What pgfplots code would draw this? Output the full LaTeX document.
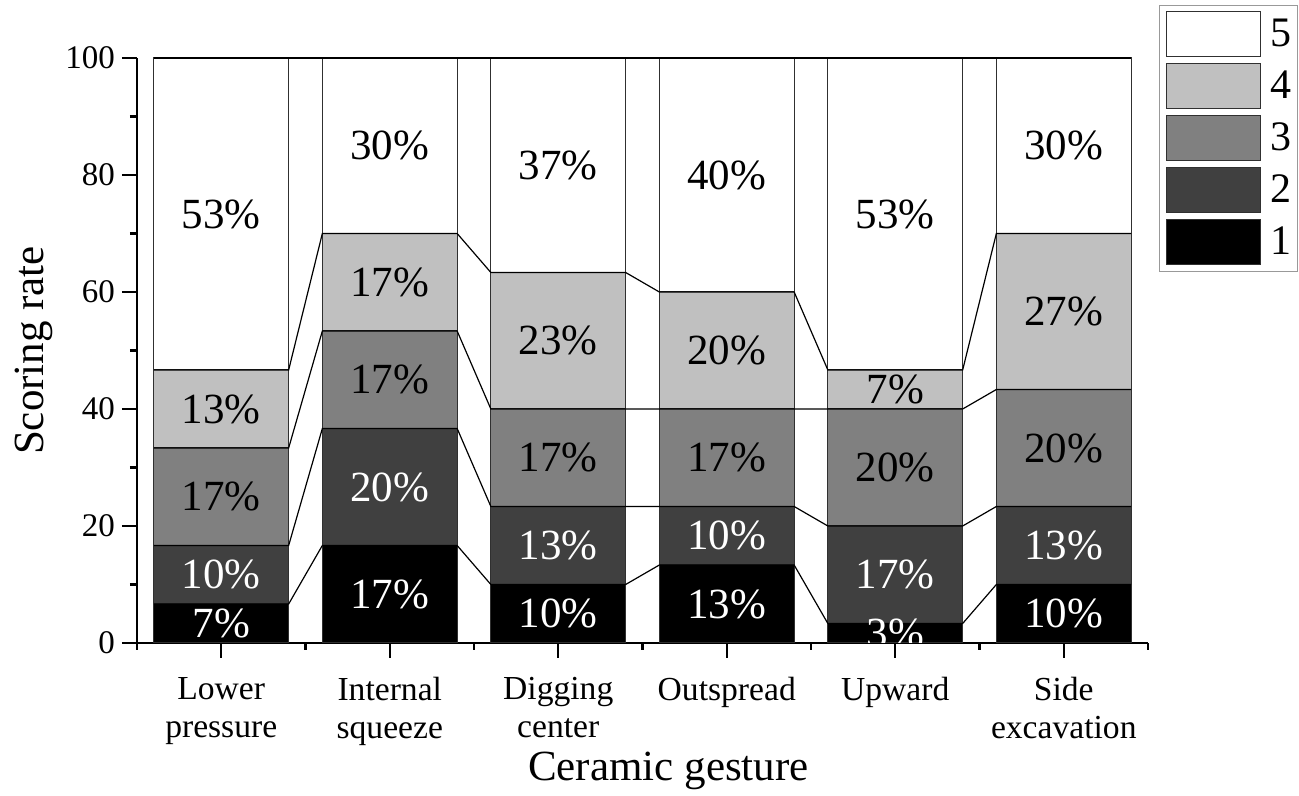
\documentclass[border=0pt]{standalone}
\usepackage{fontspec}
\setmainfont{Liberation Serif}
\usepackage{pgfplots}
\usepackage{pgfplotstable}
\pgfplotsset{compat=1.18}
\definecolor{c1}{HTML}{000000}
\definecolor{c2}{HTML}{404040}
\definecolor{c3}{HTML}{808080}
\definecolor{c4}{HTML}{C0C0C0}
\definecolor{c5}{HTML}{FFFFFF}
\definecolor{edge}{HTML}{303030}

\pgfplotstableread{
x s1 s2 s3 s4 s5
0 6.667 10 16.667 13.333 53.333
1 16.667 20 16.667 16.667 30
2 10 13.333 16.667 23.333 36.667
3 13.333 10 16.667 20 40
4 3.333 16.667 20 6.667 53.333
5 10 13.333 20 26.667 30
}\bars

\pgfplotstableread{
x y p
0 3.333 7
1 8.333 17
2 5 10
3 6.667 13
4 1.667 3
5 5 10
0 11.667 10
1 26.667 20
2 16.667 13
3 18.333 10
4 11.667 17
5 16.667 13
}\whitelabels

\pgfplotstableread{
x y p
0 25 17
1 45 17
2 31.667 17
3 31.667 17
4 30 20
5 33.333 20
0 40 13
1 61.667 17
2 51.667 23
3 50 20
4 43.333 7
5 56.667 27
0 73.333 53
1 85 30
2 81.667 37
3 80 40
4 73.333 53
5 85 30
}\blacklabels

\begin{document}
\begin{tikzpicture}
\useasboundingbox (-68.5pt,-76.5pt) rectangle (581pt,321.5pt);
\begin{axis}[
  at={(0,0)}, anchor=south west,
  scale only axis, width=505.5pt, height=292.5pt,
  xmin=-0.5, xmax=5.5, ymin=0, ymax=100,
  ybar stacked, bar width=0.8,
  axis lines=left,
  axis line style={-, line width=1.3pt, black},
  tick align=outside,
  major tick length=7.5pt, minor tick length=3.5pt,
  tick style={black, line width=1.1pt},
  ytick={0,20,...,100}, minor ytick={10,30,...,90},
  xtick={0,...,5}, minor xtick={-0.5,0.5,...,5.5},
  xticklabels={{Lower\\pressure},{Internal\\squeeze},{Digging\\center},{Outspread},{Upward},{Side\\excavation}},
  xticklabel style={align=center, font=\fontsize{16.8}{19}\selectfont, yshift=-6pt},
  yticklabel style={font=\fontsize{16.5}{19}\selectfont},
  /pgf/number format/assume math mode=true,
  xlabel={Ceramic gesture}, ylabel={Scoring rate},
  label style={font=\fontsize{21.5}{24}\selectfont},
  xlabel style={at={(axis description cs:0.5,0)}, anchor=base, yshift=-68.5pt, xshift=13pt},
  ylabel style={at={(axis description cs:0,0.5)}, anchor=base, yshift=46.5pt},
  legend image code/.code={\draw[#1, line width=0.5pt] (0pt,-11.25pt) rectangle (47pt,11.25pt);},
  reverse legend,
  legend style={at={(axis description cs:1.011,1.0906)}, anchor=north west,
    draw=gray!80, line width=0.5pt, font=\fontsize{21}{21}\selectfont,
    row sep=3pt, inner xsep=3pt, inner ysep=3pt, nodes={inner sep=0pt}},
  legend cell align=left,
]
\addplot[fill=c1, draw=edge, line width=0.5pt] table[x=x, y=s1] {\bars};
\addplot[fill=c2, draw=edge, line width=0.5pt] table[x=x, y=s2] {\bars};
\addplot[fill=c3, draw=edge, line width=0.5pt] table[x=x, y=s3] {\bars};
\addplot[fill=c4, draw=edge, line width=0.5pt] table[x=x, y=s4] {\bars};
\addplot[fill=c5, draw=edge, line width=0.5pt] table[x=x, y=s5] {\bars};
\legend{\hspace{5pt}1,\hspace{5pt}2,\hspace{5pt}3,\hspace{5pt}4,\hspace{5pt}5}
\end{axis}
\begin{axis}[
  at={(0,0)}, anchor=south west,
  scale only axis, width=505.5pt, height=292.5pt,
  xmin=-0.5, xmax=5.5, ymin=0, ymax=100,
  hide axis, clip=true, clip marker paths=true,
]
\addplot[black, line width=0.6pt, mark=none] coordinates {(-0.4,6.667)(0.4,6.667)(0.6,16.667)(1.4,16.667)(1.6,10)(2.4,10)(2.6,13.333)(3.4,13.333)(3.6,3.333)(4.4,3.333)(4.6,10)(5.4,10)};
\addplot[black, line width=0.6pt, mark=none] coordinates {(-0.4,16.667)(0.4,16.667)(0.6,36.667)(1.4,36.667)(1.6,23.333)(2.4,23.333)(2.6,23.333)(3.4,23.333)(3.6,20)(4.4,20)(4.6,23.333)(5.4,23.333)};
\addplot[black, line width=0.6pt, mark=none] coordinates {(-0.4,33.333)(0.4,33.333)(0.6,53.333)(1.4,53.333)(1.6,40)(2.4,40)(2.6,40)(3.4,40)(3.6,40)(4.4,40)(4.6,43.333)(5.4,43.333)};
\addplot[black, line width=0.6pt, mark=none] coordinates {(-0.4,46.667)(0.4,46.667)(0.6,70)(1.4,70)(1.6,63.333)(2.4,63.333)(2.6,60)(3.4,60)(3.6,46.667)(4.4,46.667)(4.6,70)(5.4,70)};
\addplot[black, line width=0.6pt, mark=none] coordinates {(-0.4,100)(0.4,100)(0.6,100)(1.4,100)(1.6,100)(2.4,100)(2.6,100)(3.4,100)(3.6,100)(4.4,100)(4.6,100)(5.4,100)};
\addplot[draw=none, mark=none, point meta=explicit symbolic,
  nodes near coords={\pgfplotspointmeta\%},
  every node near coord/.style={white, anchor=center, inner sep=0pt, font=\fontsize{21.5}{21.5}\selectfont}]
  table[x=x, y=y, meta=p] {\whitelabels};
\addplot[draw=none, mark=none, point meta=explicit symbolic,
  nodes near coords={\pgfplotspointmeta\%},
  every node near coord/.style={black, anchor=center, inner sep=0pt, font=\fontsize{21.5}{21.5}\selectfont}]
  table[x=x, y=y, meta=p] {\blacklabels};
\end{axis}
\end{tikzpicture}
\end{document}
